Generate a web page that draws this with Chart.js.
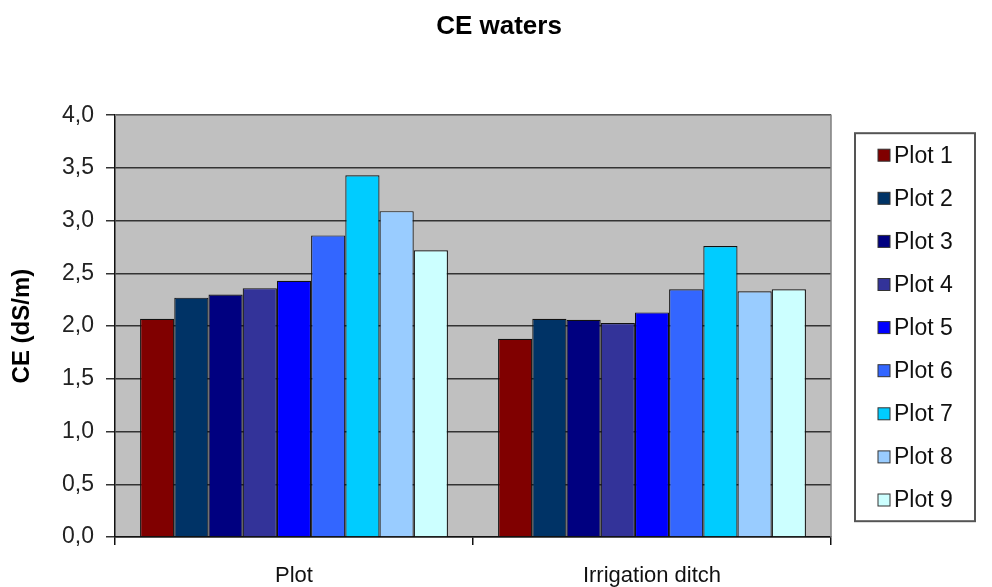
<!DOCTYPE html>
<html>
<head>
<meta charset="utf-8">
<title>CE waters</title>
<script src="https://cdn.jsdelivr.net/npm/chart.js@4.4.1/dist/chart.umd.min.js"></script>
<style>
  html, body { margin: 0; padding: 0; background: #ffffff; }
  #wrap { width: 992px; height: 587px; }
</style>
</head>
<body>
<div id="wrap"><canvas id="chart" width="992" height="587"></canvas></div>
<script>
// Categories on the x axis
const categories = ['Plot', 'Irrigation ditch'];

// Electrical conductivity (dS/m) for each plot, per sampling point
const seriesNames = ['Plot 1', 'Plot 2', 'Plot 3', 'Plot 4', 'Plot 5', 'Plot 6', 'Plot 7', 'Plot 8', 'Plot 9'];
const plot1 = [2.07, 1.88];
const plot2 = [2.27, 2.07];
const plot3 = [2.30, 2.06];
const plot4 = [2.36, 2.03];
const plot5 = [2.43, 2.13];
const plot6 = [2.86, 2.35];
const plot7 = [3.43, 2.76];
const plot8 = [3.09, 2.33];
const plot9 = [2.72, 2.35];

// Y axis tick labels (comma decimal separator)
const yTickLabels = ['0,0', '0,5', '1,0', '1,5', '2,0', '2,5', '3,0', '3,5', '4,0'];

const seriesValues = [plot1, plot2, plot3, plot4, plot5, plot6, plot7, plot8, plot9];
const seriesColors = ['#800000', '#003366', '#000080', '#333399', '#0000FF', '#3366FF', '#00CCFF', '#99CCFF', '#CCFFFF'];

const FONT = '"Liberation Sans", Arial, sans-serif';

// Grey plot-area background and its outline
const plotBackground = {
  id: 'plotBackground',
  beforeDraw(chart) {
    const { ctx, chartArea: a } = chart;
    ctx.save();
    ctx.fillStyle = '#C0C0C0';
    ctx.fillRect(a.left, a.top, a.right - a.left, a.bottom - a.top);
    ctx.restore();
  },
  afterDraw(chart) {
    const { ctx, chartArea: a } = chart;
    ctx.save();
    ctx.strokeStyle = '#808080';
    ctx.lineWidth = 1.5;
    ctx.beginPath();
    ctx.moveTo(a.left, a.top);
    ctx.lineTo(a.right, a.top);
    ctx.lineTo(a.right, a.bottom);
    ctx.stroke();
    ctx.restore();
  }
};

// Boxed legend to the right of the plot area
const boxedLegend = {
  id: 'boxedLegend',
  afterDraw(chart) {
    const { ctx, chartArea: a } = chart;
    const sets = chart.data.datasets;
    const boxLeft = a.right + 24;
    const boxTop = a.top + 18;
    const boxW = 120;
    const boxH = 388;
    const rowStep = 43.1;
    const firstRow = boxTop + 22;
    ctx.save();
    ctx.fillStyle = '#ffffff';
    ctx.fillRect(boxLeft, boxTop, boxW, boxH);
    ctx.strokeStyle = '#555555';
    ctx.lineWidth = 2;
    ctx.strokeRect(boxLeft, boxTop, boxW, boxH);
    ctx.font = '23px ' + FONT;
    ctx.textBaseline = 'middle';
    ctx.textAlign = 'left';
    sets.forEach((ds, i) => {
      const y = firstRow + i * rowStep;
      ctx.fillStyle = ds.backgroundColor;
      ctx.fillRect(boxLeft + 23, y - 6, 12, 12);
      ctx.strokeStyle = '#333333';
      ctx.lineWidth = 1;
      ctx.strokeRect(boxLeft + 23, y - 6, 12, 12);
      ctx.fillStyle = '#111111';
      ctx.fillText(ds.label, boxLeft + 39, y + 1);
    });
    ctx.restore();
  }
};

const datasets = seriesNames.map((name, i) => ({
  label: name,
  data: seriesValues[i],
  backgroundColor: seriesColors[i],
  borderColor: '#111111',
  borderWidth: 1.2,
  borderSkipped: 'bottom',
  categoryPercentage: 0.86,
  barPercentage: 1.0
}));

new Chart(document.getElementById('chart'), {
  type: 'bar',
  data: { labels: categories, datasets },
  options: {
    responsive: false,
    animation: false,
    devicePixelRatio: 1,
    layout: { padding: { left: 6, right: 0, top: 0, bottom: 0 } },
    plugins: {
      legend: { display: false },
      tooltip: { enabled: false },
      title: {
        display: true,
        text: 'CE waters',
        color: '#000000',
        font: { family: FONT, size: 26, weight: 'bold' },
        padding: { top: 11, bottom: 73 }
      }
    },
    scales: {
      x: {
        offset: true,
        grid: {
          offset: true,
          drawOnChartArea: false,
          drawTicks: true,
          tickLength: 8,
          color: '#111111',
          lineWidth: 1.5
        },
        border: { display: true, color: '#111111', width: 1.5 },
        ticks: {
          color: '#111111',
          font: { family: FONT, size: 22 },
          padding: 18,
          maxRotation: 0
        },
        afterFit(axis) { axis.height = 50; }
      },
      y: {
        min: 0,
        max: 4,
        grid: {
          color: '#333333',
          lineWidth: 1.5,
          drawTicks: true,
          tickLength: 9
        },
        border: { display: true, color: '#111111', width: 1.5 },
        ticks: {
          stepSize: 0.5,
          color: '#222222',
          font: { family: FONT, size: 23 },
          padding: 12,
          callback: (value, index) => yTickLabels[index]
        },
        title: {
          display: true,
          text: 'CE (dS/m)',
          color: '#000000',
          font: { family: FONT, size: 24, weight: 'bold' },
          padding: { top: 2, bottom: 4 }
        },
        afterFit(axis) { axis.width = 109; }
      },
      // Empty right-hand strip that holds the legend box
      legendSpace: {
        type: 'linear',
        position: 'right',
        display: true,
        grid: { display: false },
        border: { display: false },
        ticks: { display: false },
        afterFit(axis) { axis.width = 161; }
      }
    }
  },
  plugins: [plotBackground, boxedLegend]
});
</script>
</body>
</html>
